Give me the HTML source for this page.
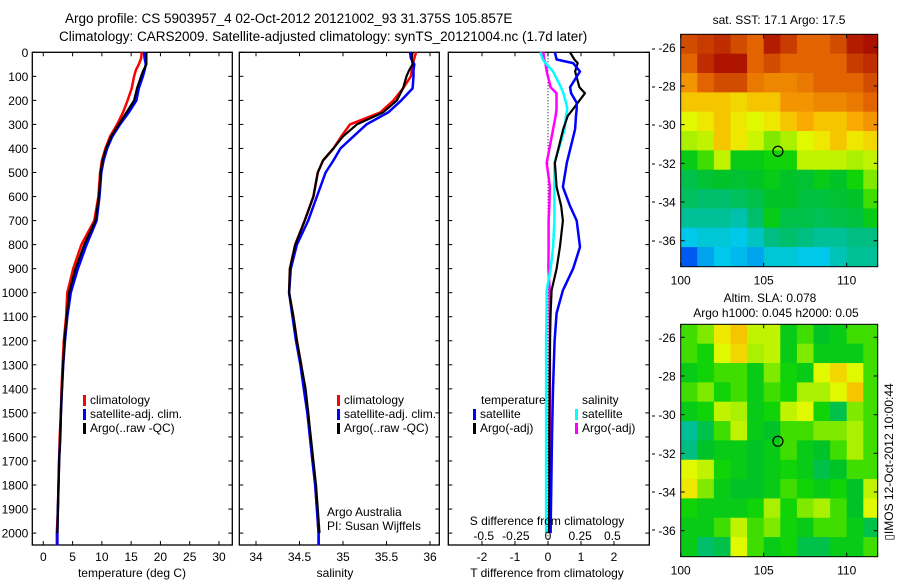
<!DOCTYPE html>
<html><head><meta charset="utf-8"><style>
html,body{margin:0;padding:0;background:#fff;}
svg{display:block;font-family:"Liberation Sans",sans-serif;}
text{fill:#000;}
</style></head><body>
<svg id="fig" width="900" height="580" viewBox="0 0 900 580" xmlns="http://www.w3.org/2000/svg">
<rect x="0" y="0" width="900" height="580" fill="#fff"/>
<text x="65" y="23" font-size="13.5">Argo profile: CS 5903957_4 02-Oct-2012 20121002_93 31.375S 105.857E</text>
<text x="59" y="41" font-size="13.5">Climatology: CARS2009. Satellite-adjusted climatology: synTS_20121004.nc (1.7d later)</text>
<g id="g1"></g>
<g id="g2"></g>
<g id="g3"></g>
<g id="m1"></g>
<g id="m2"></g>
<text x="779" y="24" font-size="12" text-anchor="middle">sat. SST: 17.1 Argo: 17.5</text>
<text x="770" y="302" font-size="12" text-anchor="middle">Altim. SLA: 0.078</text>
<text x="776" y="317" font-size="12" text-anchor="middle">Argo h1000: 0.045 h2000: 0.05</text>
<text transform="translate(893,462) rotate(-90)" font-size="12" text-anchor="middle">▯IMOS 12-Oct-2012 10:00:44</text>
<text x="327" y="516" font-size="12">Argo Australia</text>
<text x="327" y="530" font-size="12">PI: Susan Wijffels</text>
</svg>
<script>
const depths=[0,25,50,75,100,150,200,250,300,350,400,450,500,600,700,800,900,1000,1100,1200,1300,1400,1500,1600,1700,1800,1900,2000,2050];
const tClim=[16.8,16.7,16.3,15.8,15.5,15.1,14.4,13.6,12.6,11.4,10.6,10.0,9.7,9.4,8.7,6.5,5.1,4.1,3.9,3.5,3.3,3.1,3.0,2.8,2.7,2.6,2.5,2.3,2.3];
const tSat=[17.2,17.3,17.5,17.3,17.0,16.3,15.9,14.6,13.1,11.8,10.9,10.3,9.9,9.6,9.1,7.4,5.9,4.7,4.1,3.7,3.4,3.2,3.0,2.9,2.7,2.6,2.5,2.4,2.4];
const tArgo=[17.6,17.6,17.6,17.1,16.7,16.0,15.5,14.2,12.9,11.6,10.7,10.1,9.8,9.5,8.9,7.0,5.5,4.4,4.0,3.6,3.4,3.2,3.0,2.9,2.7,2.6,2.5,2.4,null];
const sClim=[35.84,35.82,35.8,35.79,35.78,35.69,35.58,35.43,35.08,34.98,34.89,34.77,34.71,34.66,34.56,34.45,34.39,34.38,34.43,34.47,34.52,34.56,34.6,34.62,34.65,34.68,34.7,34.72,34.72];
const sSat=[35.77,35.78,35.82,35.81,35.81,35.8,35.67,35.52,35.27,35.12,34.97,34.89,34.8,34.7,34.6,34.47,34.4,34.38,34.42,34.46,34.51,34.55,34.59,34.62,34.65,34.68,34.7,34.72,34.72];
const sArgo=[35.8,35.79,35.8,35.76,35.73,35.69,35.62,35.46,35.16,35.0,34.89,34.77,34.71,34.66,34.56,34.45,34.39,34.38,34.43,34.47,34.52,34.57,34.6,34.63,34.66,34.69,34.71,34.73,null];
const dDepth=[0,30,45,80,145,170,210,236,264,320,460,560,640,700,810,900,990,1085,1200,1400,1600,1800,2000];
const dTSat=[0.21,0.26,0.76,0.97,0.67,0.7,0.87,0.87,0.85,0.82,0.57,0.45,0.67,0.87,0.97,0.76,0.45,0.26,0.2,0.15,0.12,0.1,0.08];
const dTArgo=[0.67,0.8,0.9,0.82,0.95,1.12,0.9,0.76,0.6,0.46,0.21,0.26,0.4,0.45,0.36,0.26,0.11,0.08,0.06,0.05,0.04,0.04,0.03];
const dSSat=[-0.06,-0.04,-0.02,0.04,0.1,0.12,0.14,0.15,0.14,0.13,0.05,0.05,0.05,0.05,0.04,0.02,-0.01,-0.012,-0.015,-0.015,-0.015,-0.015,-0.015];
const dSArgo=[-0.036,-0.03,-0.02,-0.01,0.02,0.066,0.066,0.066,0.06,0.04,-0.01,0.015,0.01,0.005,0.005,0.003,0.013,0.014,0.015,0.015,0.015,0.015,0.015];
const depthTicks=[0,100,200,300,400,500,600,700,800,900,1000,1100,1200,1300,1400,1500,1600,1700,1800,1900,2000];
const tTicks=[0,5,10,15,20,25,30];
const sTicks=[34,34.5,35,35.5,36];
const dTTicks=[-2,-1,0,1,2];
const dSTicks=[-0.5,-0.25,0,0.25,0.5];
const dSTickLabels=['-0.5','-0.25','0','0.25','0.5'];
const lonTicks=[100,105,110];
const latTicks=[-26,-28,-30,-32,-34,-36];
const sstGrid=[
[0.88,0.9,0.92,0.88,0.85,0.94,0.9,0.85,0.85,0.88,0.94,0.96],
[0.85,0.92,0.95,0.95,0.85,0.88,0.85,0.85,0.85,0.85,0.9,0.92],
[0.78,0.85,0.88,0.88,0.82,0.8,0.8,0.82,0.85,0.85,0.85,0.88],
[0.72,0.72,0.72,0.7,0.72,0.72,0.78,0.78,0.8,0.8,0.82,0.85],
[0.65,0.68,0.72,0.68,0.65,0.68,0.72,0.75,0.72,0.72,0.75,0.78],
[0.6,0.62,0.72,0.68,0.63,0.58,0.6,0.65,0.68,0.72,0.68,0.7],
[0.5,0.55,0.62,0.5,0.5,0.52,0.52,0.62,0.62,0.62,0.6,0.62],
[0.45,0.47,0.48,0.47,0.48,0.5,0.48,0.47,0.5,0.48,0.52,0.58],
[0.43,0.42,0.42,0.43,0.45,0.48,0.48,0.46,0.46,0.47,0.48,0.55],
[0.38,0.38,0.38,0.36,0.42,0.5,0.45,0.45,0.44,0.45,0.46,0.5],
[0.3,0.32,0.32,0.3,0.34,0.4,0.42,0.4,0.38,0.38,0.4,0.4],
[0.15,0.25,0.3,0.28,0.25,0.32,0.32,0.3,0.3,0.35,0.38,0.38]];
const slaGrid=[
[0.55,0.58,0.68,0.72,0.62,0.62,0.5,0.55,0.48,0.5,0.55,0.55],
[0.55,0.52,0.65,0.7,0.6,0.62,0.5,0.58,0.5,0.5,0.5,0.55],
[0.5,0.52,0.55,0.55,0.5,0.58,0.52,0.5,0.65,0.7,0.65,0.55],
[0.55,0.58,0.52,0.55,0.5,0.55,0.52,0.6,0.6,0.65,0.72,0.55],
[0.5,0.52,0.62,0.6,0.5,0.52,0.62,0.65,0.52,0.45,0.58,0.55],
[0.38,0.45,0.55,0.62,0.5,0.48,0.55,0.55,0.58,0.58,0.6,0.55],
[0.4,0.48,0.5,0.5,0.48,0.5,0.55,0.5,0.48,0.55,0.6,0.55],
[0.65,0.62,0.52,0.5,0.48,0.5,0.52,0.5,0.45,0.48,0.55,0.55],
[0.68,0.58,0.5,0.48,0.48,0.5,0.55,0.52,0.5,0.52,0.48,0.62],
[0.52,0.5,0.5,0.5,0.52,0.6,0.52,0.58,0.6,0.55,0.48,0.65],
[0.5,0.5,0.55,0.62,0.55,0.58,0.52,0.5,0.55,0.55,0.5,0.45],
[0.5,0.42,0.45,0.65,0.55,0.5,0.52,0.45,0.45,0.5,0.5,0.55]];
const argoLon=105.857, argoLat=-31.375;

const NS='http://www.w3.org/2000/svg';
function mk(parent,tag,attrs,txt){const e=document.createElementNS(NS,tag);for(const k in attrs)e.setAttribute(k,attrs[k]);if(txt!==undefined)e.textContent=txt;parent.appendChild(e);return e;}
const TOP=52.3,BOT=545;
const yD=d=>TOP+d*0.2404;
function lin(d0,d1,p0,p1){return v=>p0+(v-d0)*(p1-p0)/(d1-d0);}

function panel(g,x0,x1,ticksX,xf,tickLabels,showDepth){
  mk(g,'rect',{x:x0,y:TOP,width:x1-x0,height:BOT-TOP,fill:'none',stroke:'#000','stroke-width':1.3});
  depthTicks.forEach(d=>{
    const y=yD(d);
    const t1=mk(g,'line',{x1:x0,x2:x0+4,y1:y,y2:y,stroke:'#000'});
    
    
    mk(g,'line',{x1:x1-4,x2:x1,y1:y,y2:y,stroke:'#000'});
    if(showDepth){
      const t=mk(g,'text',{x:x0-4,y:y+4.5,'font-size':12,'text-anchor':'end'},String(d));
      
      
    }
  });
  ticksX.forEach((v,i)=>{
    const x=xf(v);
    mk(g,'line',{x1:x,x2:x,y1:TOP,y2:TOP+4,stroke:'#000'});
    mk(g,'line',{x1:x,x2:x,y1:BOT-4,y2:BOT,stroke:'#000'});
    const t=mk(g,'text',{x:x,y:561,'font-size':12,'text-anchor':'middle'},tickLabels[i]);
    
    
  });
}
function line(g,xs,ds,xf,color,w,name){
  let pts=[];xs.forEach((v,i)=>{if(v!==null)pts.push(xf(v).toFixed(1)+','+yD(ds[i]).toFixed(1));});
  const p=mk(g,'polyline',{points:pts.join(' '),fill:'none',stroke:color,'stroke-width':w,'stroke-linejoin':'round'});
  
  
}
function legend(g,x,y,items){
  items.forEach((it,i)=>{
    mk(g,'rect',{x:x,y:y+i*14-9,width:3,height:11,fill:it[0]});
    const t=mk(g,'text',{x:x+7,y:y+i*14,'font-size':12},it[1]);
    
    
  });
}
// Panel 1
const g1=document.getElementById('g1');
const xT=lin(0,30,43.3,219);
panel(g1,32.3,232.3,tTicks,xT,tTicks.map(String),true);
line(g1,tClim,depths,xT,'#f00',2.5,'temp-climatology-line');
line(g1,tSat,depths,xT,'#00f',2.5,'temp-satellite-line');
line(g1,tArgo,depths,xT,'#000',2.2,'temp-argo-line');
legend(g1,83,404,[['#f00','climatology'],['#00f','satellite-adj. clim.'],['#000','Argo(..raw -QC)']]);
mk(g1,'text',{x:132,y:577,'font-size':12,'text-anchor':'middle'},'temperature (deg C)');
// Panel 2
const g2=document.getElementById('g2');
const xS=lin(34,36,256,430);
panel(g2,239.3,439.3,sTicks,xS,sTicks.map(String),false);
line(g2,sClim,depths,xS,'#f00',2.5,'sal-climatology-line');
line(g2,sSat,depths,xS,'#00f',2.5,'sal-satellite-line');
line(g2,sArgo,depths,xS,'#000',2.2,'sal-argo-line');
legend(g2,337,404,[['#f00','climatology'],['#00f','satellite-adj. clim.'],['#000','Argo(..raw -QC)']]);
mk(g2,'text',{x:335,y:577,'font-size':12,'text-anchor':'middle'},'salinity');
// Panel 3
const g3=document.getElementById('g3');
const xDT=lin(0,2,548,614);
const xDS=lin(0,0.5,548,612.3);
panel(g3,448.3,649.3,dTTicks,xDT,dTTicks.map(String),false);
mk(g3,'line',{x1:548,x2:548,y1:TOP,y2:BOT,stroke:'#000','stroke-dasharray':'1,2','stroke-width':1});
line(g3,dSArgo,dDepth,xDS,'#f0f',2.5,'sal-diff-argo-line');
line(g3,dSSat,dDepth,xDS,'#0ff',2.5,'sal-diff-satellite-line');
line(g3,dTArgo,dDepth,xDT,'#000',2.2,'temp-diff-argo-line');
line(g3,dTSat,dDepth,xDT,'#00f',2.5,'temp-diff-satellite-line');
dSTicks.forEach((v,i)=>{mk(g3,'text',{x:xDS(v),y:540,'font-size':12,'text-anchor':'middle'},dSTickLabels[i]);});
mk(g3,'text',{x:547,y:525,'font-size':12,'text-anchor':'middle'},'S difference from climatology');
mk(g3,'text',{x:547,y:577,'font-size':12,'text-anchor':'middle'},'T difference from climatology');
mk(g3,'text',{x:481,y:404,'font-size':12},'temperature');
mk(g3,'text',{x:582,y:404,'font-size':12},'salinity');
legend(g3,473,418,[['#00f','satellite'],['#000','Argo(-adj)']]);
legend(g3,575,418,[['#0ff','satellite'],['#f0f','Argo(-adj)']]);
[49,87,125,164,202,241,416,454,492,530].forEach(y=>mk(g3,'line',{x1:652,x2:655,y1:y,y2:y,stroke:'#000'}));

const cmapStops=[[0,0,0,140],[0.15,0,90,240],[0.3,0,200,235],[0.4,0,190,130],[0.48,0,195,40],[0.53,20,215,0],[0.6,170,240,0],[0.66,235,250,0],[0.75,250,170,0],[0.85,225,100,0],[0.95,175,20,0],[1,150,0,0]];
function cmap(v){
  v=Math.max(0,Math.min(1,v));
  for(let i=1;i<cmapStops.length;i++){
    const a=cmapStops[i-1],b=cmapStops[i];
    if(v<=b[0]){const t=(v-a[0])/(b[0]-a[0]);
      return `rgb(${Math.round(a[1]+t*(b[1]-a[1]))},${Math.round(a[2]+t*(b[2]-a[2]))},${Math.round(a[3]+t*(b[3]-a[3]))})`;}
  }
  return 'rgb(150,0,0)';
}
function map(g,top,bot,grid,name){
  const L=680.7,R=877.7;
  const xl=lin(100,110,680.7,846.7);
  const yl=lin(-26,-36,top+13,top+206.4);
  const lat0=-25.33;
  grid.forEach((row,ri)=>row.forEach((v,ci)=>{
    const x=xl(100+ci),y=yl(lat0-ri);
    const w=xl(101+ci)-x, h=Math.min(yl(lat0-ri-1),bot)-y;
    const c=mk(g,'rect',{x:x.toFixed(2),y:y.toFixed(2),width:(Math.min(x+w,R)-x+0.4).toFixed(2),height:(h+0.4).toFixed(2),fill:cmap(v)});
    
    
  }));
  mk(g,'rect',{x:L,y:top,width:R-L,height:bot-top,fill:'none',stroke:'#000','stroke-width':1});
  lonTicks.forEach(v=>{const x=xl(v);mk(g,'line',{x1:x,x2:x,y1:bot,y2:bot-4,stroke:'#000'});mk(g,'line',{x1:x,x2:x,y1:top,y2:top+4,stroke:'#000'});
    mk(g,'text',{x:x,y:bot+18,'font-size':12,'text-anchor':'middle'},String(v));});
  latTicks.forEach(v=>{const y=yl(v);mk(g,'line',{x1:L,x2:L+4,y1:y,y2:y,stroke:'#000'});mk(g,'line',{x1:R-4,x2:R,y1:y,y2:y,stroke:'#000'});
    mk(g,'text',{x:L-5,y:y+4.5,'font-size':12,'text-anchor':'end'},String(v));});
  const m=mk(g,'circle',{cx:xl(argoLon),cy:yl(argoLat),r:5,fill:'none',stroke:'#000','stroke-width':1.2});
  
  
}
map(document.getElementById('m1'),34.3,266.7,sstGrid,'sst');
map(document.getElementById('m2'),324.3,556.7,slaGrid,'sla');
</script>
</body></html>
